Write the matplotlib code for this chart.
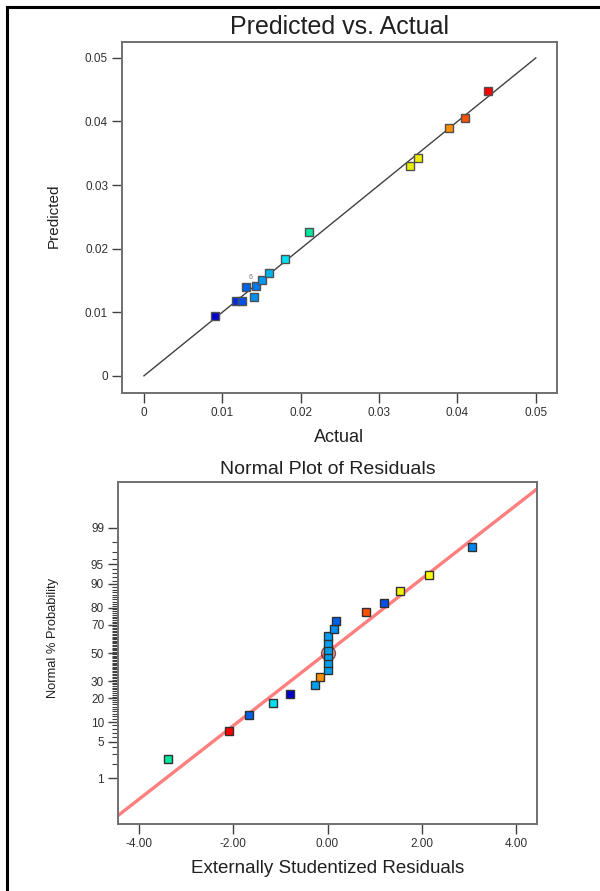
import numpy as np
import matplotlib
matplotlib.use("Agg")
import matplotlib.pyplot as plt
from matplotlib.lines import Line2D
from matplotlib import font_manager
from statistics import NormalDist

plt.rcParams['font.family'] = ['Liberation Sans', 'DejaVu Sans']

_names = {f.name for f in font_manager.fontManager.ttflist}
narrow_family = ['Liberation Sans Narrow'] if 'Liberation Sans Narrow' in _names else ['Liberation Sans']
narrow_size = 11 if 'Liberation Sans Narrow' in _names else 9.3

# ---------------- data: Predicted vs Actual ----------------
actual = [0.0091, 0.0118, 0.0125, 0.0130, 0.0143, 0.0140, 0.0150, 0.0160,
          0.0180, 0.0210, 0.0340, 0.0350, 0.0389, 0.0409, 0.0439]
predicted = [0.0094, 0.0118, 0.0118, 0.0140, 0.0141, 0.0124, 0.0150, 0.0161,
             0.0184, 0.0226, 0.0330, 0.0342, 0.0390, 0.0406, 0.0448]
pva_colors = ['#0000CC', '#0030D8', '#0050E8', '#0060E8', '#0078F0', '#0090F0',
              '#0098F0', '#00B4F0', '#00E0F0', '#00E8A0', '#E8F000', '#F0F000',
              '#FF9000', '#FF5000', '#FF0000']
pva_ticks = [0, 0.01, 0.02, 0.03, 0.04, 0.05]
pva_ticklabels = ['0', '0.01', '0.02', '0.03', '0.04', '0.05']

# ---------------- data: Normal plot of residuals ----------------
residuals = [-3.384, -2.096, -1.677, -1.168, -0.794, -0.255, -0.157,
             0.02, 0.02, 0.02, 0.02, 0.02, 0.02,
             0.148, 0.183, 0.828, 1.195, 1.535, 2.150, 3.070]
norm_prob = [2.5, 7.5, 12.5, 17.5, 22.5, 27.5, 32.5,
             37.5, 42.5, 47.5, 52.5, 57.5, 62.5,
             67.5, 72.5, 77.5, 82.5, 87.5, 92.5, 97.5]
res_colors = ['#00E8A0', '#FF0000', '#0060E8', '#00E0F0', '#0000CC', '#00A0F0',
              '#FF9000', '#00A0F0', '#00A0F0', '#00A0F0', '#00A0F0', '#00A0F0',
              '#00A0F0', '#0090F0', '#0060E8', '#FF5000', '#0050E8', '#F0F000',
              '#FFFF00', '#0088F0']
ref_mean, ref_sd = -0.02, 1.47
res_xticks = [-4, -2, 0, 2, 4]
res_xticklabels = ['-4.00', '-2.00', '0.00', '2.00', '4.00']
prob_ticks = [1, 5, 10, 20, 30, 50, 70, 80, 90, 95, 99]
prob_minor = [p for p in range(2, 99) if p not in prob_ticks]

nd = NormalDist()

def p_to_z(p):
    p = np.clip(np.asarray(p, dtype=float) / 100.0, 1e-9, 1 - 1e-9)
    return np.vectorize(nd.inv_cdf, otypes=[float])(p)

def z_to_p(z):
    z = np.asarray(z, dtype=float)
    return np.vectorize(nd.cdf, otypes=[float])(z) * 100.0

spine_col = '#707070'
tick_col = '#404040'

fig = plt.figure(figsize=(6.0, 8.91), dpi=100)

# outer frame (left and top)
fig.add_artist(Line2D([7/600, 7/600], [0, 1 - 7/891], transform=fig.transFigure,
                      color='black', lw=2.2))
fig.add_artist(Line2D([7/600, 1], [1 - 7/891, 1 - 7/891], transform=fig.transFigure,
                      color='black', lw=2.2))

# ---------------- top axes ----------------
ax1 = fig.add_axes([122/600, 1 - 393/891, 435/600, 351/891])
ax1.plot([0, 0.05], [0, 0.05], color='#404040', lw=1.0, zorder=2)
for a, p, c in zip(actual, predicted, pva_colors):
    ax1.plot(a, p, marker='s', ms=6.4, mfc=c, mec='#505050', mew=1.0,
             ls='none', zorder=3)
ax1.text(0.0136, 0.0149, '6', fontsize=5, color='#707070', ha='center',
         va='bottom', zorder=4)
ax1.set_xlim(-0.0028, 0.0527)
ax1.set_ylim(-0.0027, 0.0525)
ax1.set_xticks(pva_ticks)
ax1.set_xticklabels(pva_ticklabels)
ax1.set_yticks(pva_ticks)
ax1.set_yticklabels(pva_ticklabels)
ax1.set_title('Predicted vs. Actual', fontsize=18, pad=6, color='#202020')
ax1.set_xlabel('Actual', fontsize=13, color='#202020', labelpad=7)
ax1.set_ylabel('Predicted', fontsize=11, color='#202020')
ax1.yaxis.set_label_coords(-0.14, 0.505)

# ---------------- bottom axes ----------------
ax2 = fig.add_axes([118/600, 1 - 824/891, 419/600, 342/891])
ax2.set_yscale('function', functions=(p_to_z, z_to_p))
xl = np.array([-4.45, 4.45])
ax2.plot(xl, z_to_p((xl - ref_mean) / ref_sd), color='#FF7F7F', lw=2.4, zorder=2)
ax2.plot(0, 50, marker='o', ms=10, mfc=(0.75, 0.35, 0.35, 0.45),
         mec=(0.45, 0.15, 0.15, 0.8), mew=1.0, ls='none', zorder=2.5)
for r, p, c in zip(residuals, norm_prob, res_colors):
    ax2.plot(r, p, marker='s', ms=5.6, mfc=c, mec='#303030', mew=1.0,
             ls='none', zorder=3)
ax2.set_xlim(-4.45, 4.45)
ax2.set_ylim(float(z_to_p(-3.17)), float(z_to_p(3.17)))
ax2.set_xticks(res_xticks)
ax2.set_xticklabels(res_xticklabels)
ax2.set_yticks(prob_ticks)
ax2.set_yticklabels([str(p) for p in prob_ticks])
ax2.set_yticks(prob_minor, minor=True)
ax2.tick_params(axis='y', which='minor', length=4, width=0.8, color=tick_col)
ax2.set_title('Normal Plot of Residuals', fontsize=14, pad=6, color='#202020')
ax2.set_xlabel('Externally Studentized Residuals', fontsize=13.5,
               color='#202020', labelpad=7)
ax2.set_ylabel('Normal % Probability', fontsize=narrow_size, color='#202020',
               family=narrow_family + ['DejaVu Sans'])
ax2.yaxis.set_label_coords(-0.14, 0.545)

for ax in (ax1, ax2):
    for s in ax.spines.values():
        s.set_color(spine_col)
        s.set_linewidth(1.4)
    ax.tick_params(axis='both', which='major', length=7, width=1.0,
                   color=tick_col, labelsize=8.5, labelcolor='#303030', pad=3)

fig.savefig('out.png', dpi=100)
